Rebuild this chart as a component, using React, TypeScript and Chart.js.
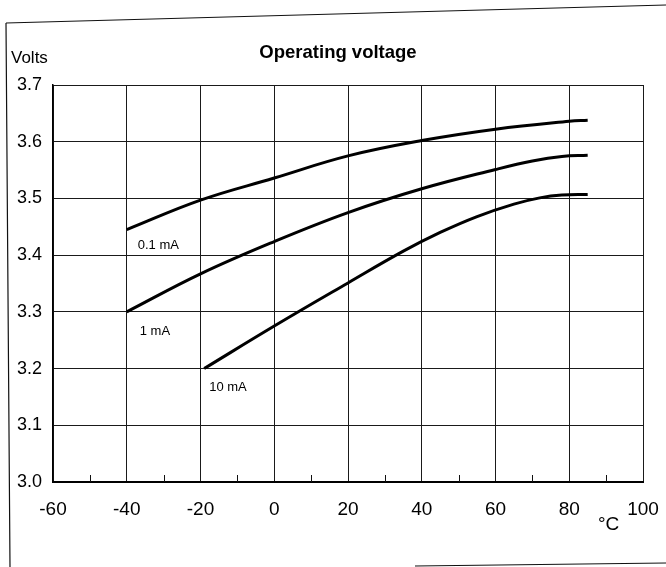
import React, { useEffect, useRef } from "react";
import { Chart, registerables } from "chart.js";

Chart.register(...registerables);

// ---- data ----
const seriesNames = ["0.1 mA", "1 mA", "10 mA"];

const temps01 = [-40, -20, 0, 20, 40, 60, 80, 85];
const volts01 = [3.445, 3.497, 3.536, 3.575, 3.602, 3.622, 3.636, 3.638];

const temps1 = [-40, -20, 0, 20, 40, 60, 70, 78, 85];
const volts1 = [3.3, 3.367, 3.424, 3.475, 3.517, 3.551, 3.566, 3.574, 3.576];

const temps10 = [-19, 0, 20, 35, 45, 55, 65, 72, 78, 85];
const volts10 = [3.2, 3.275, 3.351, 3.407, 3.44, 3.468, 3.49, 3.501, 3.506, 3.507];

const xMin = -60;
const xMax = 100;
const xStep = 20;
const minorXTicks = [-50, -30, -10, 10, 30, 50, 70, 90];
const yMin = 3.0;
const yMax = 3.7;
const yStep = 0.1;

const titleText = "Operating voltage";
const yUnit = "Volts";
const xUnit = "°C";

const SANS = "'Liberation Sans', Arial, Helvetica, sans-serif";

const toPoints = (xs: number[], ys: number[]) => xs.map((x, i) => ({ x, y: ys[i] }));

const labelOffsets = [
  { dx: 11, dy: 16 },
  { dx: 13, dy: 20 },
  { dx: 5, dy: 19 },
];

const decorPlugin = {
  id: "decor",
  afterDraw(chart: any) {
    const ctx = chart.ctx as CanvasRenderingContext2D;
    const xs = chart.scales.x;
    const ys = chart.scales.y;
    const area = chart.chartArea;
    ctx.save();

    // outer frame of the scanned figure
    ctx.strokeStyle = "#111";
    ctx.lineWidth = 1.2;
    ctx.beginPath();
    ctx.moveTo(6, 23);
    ctx.lineTo(666, 5);
    ctx.moveTo(6, 23);
    ctx.lineTo(10, 567);
    ctx.moveTo(415, 566);
    ctx.lineTo(666, 563);
    ctx.stroke();

    // minor ticks on the x axis
    ctx.strokeStyle = "#111";
    ctx.lineWidth = 1;
    ctx.beginPath();
    minorXTicks.forEach((t) => {
      const px = Math.round(xs.getPixelForValue(t)) + 0.5;
      ctx.moveTo(px, area.bottom);
      ctx.lineTo(px, area.bottom - 7);
    });
    ctx.stroke();

    // series labels at the start of each curve
    ctx.fillStyle = "#000";
    ctx.font = `13px ${SANS}`;
    ctx.textAlign = "left";
    ctx.textBaseline = "middle";
    chart.data.datasets.forEach((ds: any, i: number) => {
      const p0 = ds.data[0];
      const px = xs.getPixelForValue(p0.x);
      const py = ys.getPixelForValue(p0.y);
      ctx.fillText(seriesNames[i], px + labelOffsets[i].dx, py + labelOffsets[i].dy);
    });

    // title
    ctx.font = `bold 18.5px ${SANS}`;
    ctx.textAlign = "center";
    ctx.textBaseline = "alphabetic";
    ctx.fillText(titleText, 338, 58);

    // y unit
    ctx.font = `17px ${SANS}`;
    ctx.textAlign = "left";
    ctx.fillText(yUnit, 11, 63);

    // x unit
    ctx.font = `19px ${SANS}`;
    ctx.textAlign = "left";
    ctx.fillText(xUnit, 598, 530);

    ctx.restore();
  },
};

export default function App() {
  const ref = useRef<HTMLCanvasElement | null>(null);

  useEffect(() => {
    if (!ref.current) return;
    const lineStyle = {
      borderColor: "#000",
      borderWidth: 3,
      pointRadius: 0,
      fill: false,
      tension: 0.4,
      borderCapStyle: "butt" as const,
    };
    const chart = new Chart(ref.current, {
      type: "line",
      data: {
        datasets: [
          { label: seriesNames[0], data: toPoints(temps01, volts01), ...lineStyle },
          { label: seriesNames[1], data: toPoints(temps1, volts1), ...lineStyle },
          { label: seriesNames[2], data: toPoints(temps10, volts10), ...lineStyle },
        ],
      },
      options: {
        animation: false,
        responsive: false,
        events: [],
        layout: { padding: { top: 85, right: 23, bottom: 0, left: 0 } },
        plugins: {
          legend: { display: false },
          tooltip: { enabled: false },
          title: { display: false },
        },
        scales: {
          x: {
            type: "linear",
            min: xMin,
            max: xMax,
            afterFit: (s: any) => {
              s.height = 85;
              s.paddingLeft = 0;
              s.paddingRight = 0;
            },
            ticks: {
              stepSize: xStep,
              color: "#000",
              padding: 16,
              maxRotation: 0,
              font: { family: SANS, size: 19 },
            },
            grid: { color: "#1a1a1a", lineWidth: 1, drawTicks: false },
            border: { display: true, color: "#000", width: 2 },
          },
          y: {
            type: "linear",
            min: yMin,
            max: yMax,
            afterFit: (s: any) => {
              s.width = 53;
              s.paddingTop = 0;
              s.paddingBottom = 0;
            },
            ticks: {
              stepSize: yStep,
              color: "#000",
              padding: 11,
              font: { family: SANS, size: 18 },
              callback: (v: any) => Number(v).toFixed(1),
            },
            grid: { color: "#1a1a1a", lineWidth: 1, drawTicks: false },
            border: { display: true, color: "#000", width: 1.5 },
          },
        },
      },
      plugins: [decorPlugin],
    });
    return () => chart.destroy();
  }, []);

  return (
    <div style={{ position: "fixed", left: 0, top: 0, width: 666, height: 567, background: "#fff" }}>
      <canvas ref={ref} width={666} height={567} style={{ display: "block" }} />
    </div>
  );
}
